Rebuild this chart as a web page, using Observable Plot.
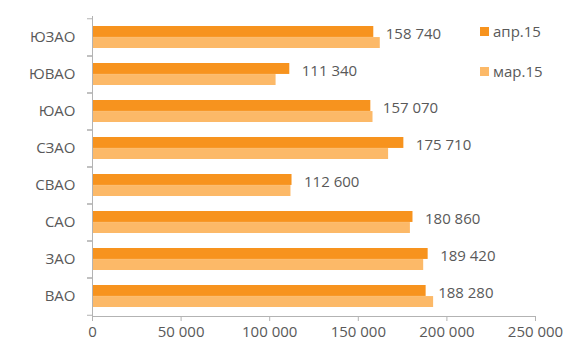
<!DOCTYPE html>
<html>
<head>
<meta charset="utf-8">
<script src="https://cdn.jsdelivr.net/npm/d3@7"></script>
<script src="https://cdn.jsdelivr.net/npm/@observablehq/plot@0.6"></script>
<style>
  html, body { margin: 0; padding: 0; background: white; }
  #wrap { position: relative; width: 582px; height: 353px; font-family: "Open Sans", sans-serif; }
  .leg { position: absolute; left: 480px; display: flex; align-items: center; font-size: 15px; color: #595959; }
  .sw { width: 9px; height: 9px; margin-right: 4px; }
</style>
</head>
<body>
<div id="wrap"></div>
<script>
const districts = ["ЮЗАО", "ЮВАО", "ЮАО", "СЗАО", "СВАО", "САО", "ЗАО", "ВАО"];
const apr15 = [158740, 111340, 157070, 175710, 112600, 180860, 189420, 188280];
const mar15 = [162400, 103600, 158300, 167100, 112000, 179400, 186900, 192500];
const seriesNames = ["апр.15", "мар.15"];
const seriesColors = ["#f7931e", "#fcb968"];
const xTicks = [0, 50000, 100000, 150000, 200000, 250000];

const data = districts.map((d, i) => ({district: d, apr: apr15[i], mar: mar15[i]}));
const fmt = v => d3.format(",")(v).replace(/,/g, " ");

const W = 582, H = 353, mt = 16, mb = 37, ml = 92, mr = 47;
const padIn = 0.41, padOut = padIn / 2;
const step = (H - mt - mb) / districts.length;
const bw = step * (1 - padIn);
const axisColor = "#b3b3b3";

const chart = Plot.plot({
  width: W, height: H,
  marginTop: mt, marginBottom: mb, marginLeft: ml, marginRight: mr,
  style: {fontFamily: "Open Sans", fontSize: "15px", color: "#595959", background: "white", overflow: "visible"},
  x: {domain: [0, 250000]},
  y: {domain: districts, paddingInner: padIn, paddingOuter: padOut},
  marks: [
    Plot.barX(data, {y: "district", x: "mar", fill: seriesColors[1], insetTop: bw / 2}),
    Plot.barX(data, {y: "district", x: "apr", fill: seriesColors[0], insetBottom: bw / 2}),
    Plot.ruleX([0], {stroke: axisColor}),
    Plot.frame({anchor: "bottom", stroke: axisColor}),
    Plot.axisX({ticks: xTicks, tickFormat: fmt, tickSize: 5, tickPadding: 5, stroke: axisColor, fill: "#595959", label: null}),
    Plot.axisY({tickSize: 5, dy: -step / 2, tickFormat: () => "", stroke: axisColor, label: null}),
    Plot.axisY({tickSize: 5, dy: step / 2, tickFormat: () => "", stroke: axisColor, label: null}),
    Plot.axisY({tickSize: 0, tickPadding: 17, fill: "#595959", label: null}),
    Plot.text(data, {x: "apr", y: "district", text: d => fmt(d.apr), textAnchor: "start", dx: 12, dy: -3, fill: "#595959", fontSize: 15})
  ]
});

const wrap = document.getElementById("wrap");
wrap.appendChild(chart);
seriesNames.forEach((name, i) => {
  const el = document.createElement("div");
  el.className = "leg";
  el.style.top = (i === 0 ? 21 : 61) + "px";
  el.innerHTML = `<div class="sw" style="background:${seriesColors[i]}"></div><span>${name}</span>`;
  wrap.appendChild(el);
});
</script>
</body>
</html>
